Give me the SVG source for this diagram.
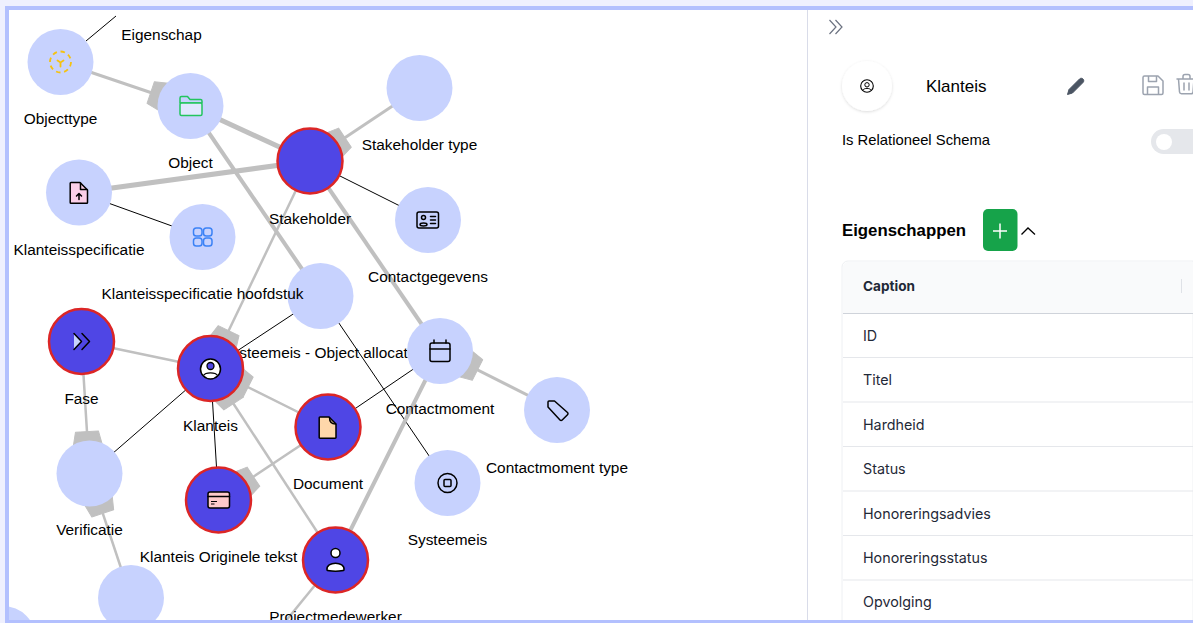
<svg xmlns="http://www.w3.org/2000/svg" width="1193" height="623" viewBox="0 0 1193 623">
<style>
text{font-family:"Liberation Sans",Arial,sans-serif;fill:#000}
.lb{font-size:15.4px;text-anchor:middle}
.c{fill:#c7d2fe}
.s{fill:#4f46e5;stroke:#dc2626;stroke-width:2.5}
.g{stroke:#c0c0c0;fill:none}
.k{stroke:#000;stroke-width:1;fill:none}
.w{fill:#c0c0c0;stroke:#c0c0c0;stroke-width:1;stroke-linejoin:round}
.i{fill:none;stroke:#000;stroke-width:1.5;stroke-linecap:round;stroke-linejoin:round}
.r{font-family:Inter,"Liberation Sans",sans-serif;font-size:14.3px;fill:#1f2937}
.h{font-family:Inter,"Liberation Sans",sans-serif;font-size:13.6px;font-weight:700;fill:#1f2937}
.rl{stroke:#e5e7eb;stroke-width:1}
.pi{fill:none;stroke:#9ca3af;stroke-width:1.5;stroke-linecap:round;stroke-linejoin:round}
</style>
<defs>
<path id="wedge" d="M26,-15L42,-11.500L42,11.500L26,15Z"/>
<filter id="sh" x="-30%" y="-30%" width="160%" height="160%"><feDropShadow dx="0" dy="1" stdDeviation="1.5" flood-color="#000" flood-opacity=".14"/></filter>
</defs>
<rect width="1193" height="623" fill="#fff"/>
<g id="connectors">
<line class="k" x1="86" y1="41" x2="116" y2="16"/>
<line class="g" stroke-width="3" x1="60.5" y1="62" x2="190.5" y2="106"/>
<line class="g" stroke-width="5" x1="190.5" y1="106" x2="310" y2="161"/>
<line class="g" stroke-width="5" x1="79" y1="192.5" x2="310" y2="161"/>
<line class="g" stroke-width="4" x1="190.5" y1="106" x2="320.5" y2="296"/>
<line class="g" stroke-width="4" x1="310" y1="161" x2="440" y2="351"/>
<line class="g" stroke-width="3" x1="310" y1="161" x2="419.5" y2="88"/>
<line class="g" stroke-width="2.5" x1="310" y1="161" x2="210.5" y2="368.5"/>
<line class="k" x1="310" y1="161" x2="428" y2="220"/>
<line class="k" x1="79" y1="192.5" x2="202.5" y2="237"/>
<line class="k" x1="320.5" y1="296" x2="210.5" y2="368.5"/>
<line class="k" x1="320.5" y1="296" x2="447.5" y2="483"/>
<line class="k" x1="440" y1="351" x2="328" y2="427"/>
<line class="g" stroke-width="4" x1="440" y1="351" x2="335.5" y2="560"/>
<line class="g" stroke-width="3" x1="440" y1="351" x2="557" y2="410"/>
<line class="g" stroke-width="2.5" x1="81.5" y1="341.5" x2="210.5" y2="368.5"/>
<line class="g" stroke-width="2.5" x1="81.5" y1="341.5" x2="89.5" y2="473.5"/>
<line class="k" x1="89.5" y1="473.5" x2="210.5" y2="368.5"/>
<line class="g" stroke-width="2.5" x1="89.5" y1="473.5" x2="131" y2="598"/>
<line class="k" x1="210.5" y1="368.5" x2="218.5" y2="500"/>
<line class="g" stroke-width="2.5" x1="210.5" y1="368.5" x2="328" y2="427"/>
<line class="g" stroke-width="2.5" x1="210.5" y1="368.5" x2="335.5" y2="560"/>
<line class="g" stroke-width="2.5" x1="328" y1="427" x2="218.5" y2="500"/>
<line class="g" stroke-width="2.5" x1="335.5" y1="560" x2="285" y2="622"/>
<use href="#wedge" class="w" transform="translate(190.5 106) rotate(198.7)"/>
<use href="#wedge" class="w" transform="translate(310 161) rotate(-33.7)"/>
<use href="#wedge" class="w" transform="translate(210.5 368.5) rotate(-64.4)"/>
<use href="#wedge" class="w" transform="translate(210.5 368.5) rotate(26.6)"/>
<use href="#wedge" class="w" transform="translate(210.5 368.5) rotate(56.8)"/>
<use href="#wedge" class="w" transform="translate(89.5 473.5) rotate(266.5)"/>
<use href="#wedge" class="w" transform="translate(89.5 473.5) rotate(71.6)"/>
<use href="#wedge" class="w" transform="translate(218.5 500) rotate(-33.7)"/>
<use href="#wedge" class="w" transform="translate(440 351) rotate(26.8)"/>
</g>
<g id="node-eigenschap"><text class="lb" x="161.5" y="39.500">Eigenschap</text></g>
<g id="node-systeemeis-object"><circle class="c" cx="320.5" cy="296" r="33"/><text class="lb" x="320.5" y="358">Systeemeis - Object allocatie</text></g>
<g id="node-objecttype"><circle class="c" cx="60.500" cy="62" r="33"/>
<g fill="none" stroke="#f5c211" stroke-width="1.800"><circle cx="60.500" cy="62" r="10.500" stroke-dasharray="4.500 3.700"/><path d="M57.500 60.500l3 2 3-2M60.500 62.500v4" stroke-linecap="round"/></g>
<text class="lb" x="60.500" y="124">Objecttype</text></g>
<g id="node-object"><circle class="c" cx="190.500" cy="106" r="33"/>
<path d="M180 103v-5a1.500 1.500 0 0 1 1.500-1.500h6l2.500 3h10.500a1.500 1.500 0 0 1 1.500 1.500v2z" fill="none" stroke="#22c55e" stroke-width="1.500" stroke-linejoin="round"/>
<rect x="180" y="103" width="22" height="12.500" rx="1.500" fill="#e0e7ff" stroke="#22c55e" stroke-width="1.500"/>
<text class="lb" x="190.500" y="168">Object</text></g>
<g id="node-stakeholder"><circle class="s" cx="310" cy="161" r="32.500"/><text class="lb" x="310" y="224">Stakeholder</text></g>
<g id="node-stakeholder-type"><circle class="c" cx="419.500" cy="88" r="33"/><text class="lb" x="419.500" y="150">Stakeholder type</text></g>
<g id="node-klanteisspecificatie"><circle class="c" cx="79" cy="192.500" r="33"/>
<path class="i" style="fill:#fbcfe8" d="M71 182.500h9l7.500 7.500v12.500a.8.800 0 0 1-.8.800h-15.700a.8.800 0 0 1-.8-.8v-19.200a.8.800 0 0 1 .8-.8z"/>
<path class="i" d="M80.500 183v6.500h6.500M79 199.500v-6M76.500 196l2.500-2.500 2.500 2.500"/>
<text class="lb" x="79" y="255">Klanteisspecificatie</text></g>
<g id="node-klanteisspecificatie-hoofdstuk"><circle class="c" cx="202.500" cy="237" r="33"/>
<g fill="none" stroke="#3b82f6" stroke-width="1.500"><rect x="193.500" y="228" width="8.500" height="8" rx="2.800"/><rect x="203.500" y="228" width="8.500" height="8" rx="2.800"/><rect x="193.500" y="238" width="8.500" height="8" rx="2.800"/><rect x="203.500" y="238" width="8.500" height="8" rx="2.800"/></g>
<text class="lb" x="202.500" y="299">Klanteisspecificatie hoofdstuk</text></g>
<g id="node-contactgegevens"><circle class="c" cx="428" cy="220" r="33"/>
<rect class="i" x="417" y="212" width="21.500" height="16" rx="2"/><circle class="i" cx="423.500" cy="217.500" r="2"/><path class="i" d="M420 224.500c0-2 7-2 7 0s-7 2-7 0zM430.500 216.500h5M430.500 220h5M430.500 223.500h5"/>
<text class="lb" x="428" y="282">Contactgegevens</text></g>
<g id="node-contactmoment"><circle class="c" cx="440" cy="351" r="33"/>
<rect class="i" x="430" y="343" width="20" height="18.500" rx="2"/><path class="i" d="M430 349h20M434 340v3M446 340v3"/>
<text class="lb" x="440" y="414">Contactmoment</text></g>
<g id="node-contactmoment-type"><circle class="c" cx="557" cy="410" r="33"/>
<path class="i" d="M549 401h5.500l13 11.500a1.500 1.500 0 0 1 0 2.200l-5.300 5.300a1.500 1.500 0 0 1-2.200 0l-12-13v-5a1 1 0 0 1 1-1z"/>
<text class="lb" x="557" y="473">Contactmoment type</text></g>
<g id="node-systeemeis"><circle class="c" cx="447.500" cy="483" r="33"/>
<circle class="i" cx="447.500" cy="483" r="9.500"/><rect class="i" x="444" y="479.500" width="7" height="7" rx="1"/>
<text class="lb" x="447.500" y="545">Systeemeis</text></g>
<g id="node-fase"><circle class="s" cx="81.500" cy="341.500" r="32.500"/>
<path d="M74 334l7.500 7.500-7.500 7.500z" fill="#c7d2fe"/><path class="i" d="M82 333.500l7.500 8-7.500 8M74 333.500l7.500 8-7.500 8"/>
<text class="lb" x="81.500" y="404">Fase</text></g>
<g id="node-verificatie"><circle class="c" cx="89.500" cy="473.500" r="33"/><text class="lb" x="89.500" y="535">Verificatie</text></g>
<g id="node-klanteis"><circle class="s" cx="210.500" cy="368.500" r="32.500"/>
<circle cx="210.500" cy="369" r="10" fill="#fff" stroke="#000" stroke-width="1.500"/><circle cx="210.500" cy="366" r="3.500" fill="#4f46e5" stroke="#000" stroke-width="1.300"/><path d="M203.500 375.500c2-3.500 12-3.500 14 0" fill="none" stroke="#000" stroke-width="1.300"/>
<text class="lb" x="210.500" y="431">Klanteis</text></g>
<g id="node-document"><circle class="s" cx="328" cy="427" r="32.500"/>
<path class="i" style="fill:#fed7aa" d="M320 417h9l7 7v13.500a.8.800 0 0 1-.8.800h-15.200a.8.800 0 0 1-.8-.8v-19.700a.8.800 0 0 1 .8-.8z"/><path class="i" d="M329.500 417.500c0 4 2 6.500 6 6.500"/>
<text class="lb" x="328" y="489">Document</text></g>
<g id="node-klanteis-originele-tekst"><circle class="s" cx="218.500" cy="500" r="32.500"/>
<rect class="i" style="fill:#fecaca" x="208" y="492" width="21.500" height="16" rx="2"/><path class="i" d="M208 496.500h21.500"/><path d="M211 501.500h6M211 504h3.500" stroke="#000" fill="none"/>
<text class="lb" x="218.500" y="562">Klanteis Originele tekst</text></g>
<g id="node-projectmedewerker"><circle class="s" cx="335.500" cy="560" r="32.500"/>
<circle cx="335.500" cy="553" r="4.500" fill="#fff" stroke="#000" stroke-width="1.500"/><path d="M327 570c-1.500-9 18.500-9 17 0-1 1.500-16 1.500-17 0z" fill="#fff" stroke="#000" stroke-width="1.500"/>
<text class="lb" x="335.500" y="622">Projectmedewerker</text></g>
<g id="node-onderaan"><circle class="c" cx="131" cy="598" r="33"/></g>
<g id="node-linksonder"><circle class="c" cx="3" cy="639" r="33"/></g>
<g id="panel">
<rect x="808" y="10" width="385" height="613" fill="#fff"/>
<line x1="807.500" y1="10" x2="807.500" y2="623" stroke="#d9dce9"/>
<path d="M829.500 20l6.500 7-6.500 7M835.500 20l6.500 7-6.500 7" fill="none" stroke="#6b7280" stroke-width="1.200"/>
<circle cx="867" cy="86" r="25" fill="#fff" filter="url(#sh)"/>
<circle cx="867" cy="86" r="6.300" fill="none" stroke="#000" stroke-width="1.100"/><circle cx="867" cy="84.800" r="2.200" fill="none" stroke="#000" stroke-width="1"/><path d="M862.800 90.200c1.500-2.400 6.900-2.400 8.400 0" fill="none" stroke="#000" stroke-width="1"/>
<text x="926" y="92" font-size="17">Klanteis</text>
<path d="M1067.500 94.500l1.500-5 10.500-10.500c1-1 2.500-1 3.500 0s1 2.500 0 3.500l-10.500 10.500z" fill="#4b5563" stroke="#4b5563" stroke-linejoin="round"/>
<path class="pi" d="M1144.500 76h13.500l5 5v12a1.500 1.500 0 0 1-1.500 1.500h-17a1.500 1.500 0 0 1-1.500-1.500v-15.500a1.500 1.500 0 0 1 1.500-1.500zM1148.500 76v5.500h8v-5.500M1147.500 94.500v-7.500h11v7.500"/>
<path class="pi" d="M1177 79h16M1183 79v-2.500a2 2 0 0 1 2-2h3a2 2 0 0 1 2 2V79M1178.500 79l1 13a2 2 0 0 0 2 1.800h9.500a2 2 0 0 0 2-1.800l1-13M1184 83v7M1189 83v7"/>
<text x="842" y="145" font-size="14.800">Is Relationeel Schema</text>
<rect x="1151" y="129" width="60" height="25" rx="12.500" fill="#e5e7eb"/><circle cx="1164" cy="142" r="8" fill="#fff"/>
<text x="842" y="236" font-size="16.800" font-weight="700">Eigenschappen</text>
<rect x="983" y="209" width="34.500" height="42" rx="5" fill="#16a34a"/>
<path d="M1000 223.500v15M993 231h14" stroke="#fff" stroke-width="1.500" fill="none"/>
<path d="M1021.500 234.500l6.500-6.500 7 6.500" fill="none" stroke="#000" stroke-width="1.300"/>
<path d="M842 623V267a6 6 0 0 1 6-6h345v362z" fill="#fff" stroke="#eef0f3"/>
<path d="M843 313V267a5 5 0 0 1 5-5h345v51z" fill="#f9fafb"/>
<line x1="843" y1="313.500" x2="1193" y2="313.500" stroke="#cfd3da"/>
<line x1="1181.500" y1="279" x2="1181.500" y2="293" stroke="#dfe2e7"/>
<text class="h" x="863" y="291">Caption</text>
<line class="rl" x1="843" y1="357.500" x2="1193" y2="357.500"/><line class="rl" x1="843" y1="402" x2="1193" y2="402"/><line class="rl" x1="843" y1="446.500" x2="1193" y2="446.500"/><line class="rl" x1="843" y1="491" x2="1193" y2="491"/><line class="rl" x1="843" y1="535.500" x2="1193" y2="535.500"/><line class="rl" x1="843" y1="580" x2="1193" y2="580"/>
<text class="r" x="863" y="341">ID</text>
<text class="r" x="863" y="385">Titel</text>
<text class="r" x="863" y="430">Hardheid</text>
<text class="r" x="863" y="474">Status</text>
<text class="r" x="863" y="519">Honoreringsadvies</text>
<text class="r" x="863" y="563">Honoreringsstatus</text>
<text class="r" x="863" y="607">Opvolging</text>
</g>
<g id="frame">
<rect x="0" y="0" width="1193" height="6" fill="#eff0fe"/>
<rect x="0" y="0" width="5" height="623" fill="#eff0fe"/>
<rect x="5" y="6" width="1188" height="4" fill="#b3c0fe"/>
<rect x="5" y="6" width="4" height="617" fill="#b3c0fe"/>
<rect x="5" y="620" width="1188" height="3" fill="#b3c0fe"/>
</g>
</svg>
